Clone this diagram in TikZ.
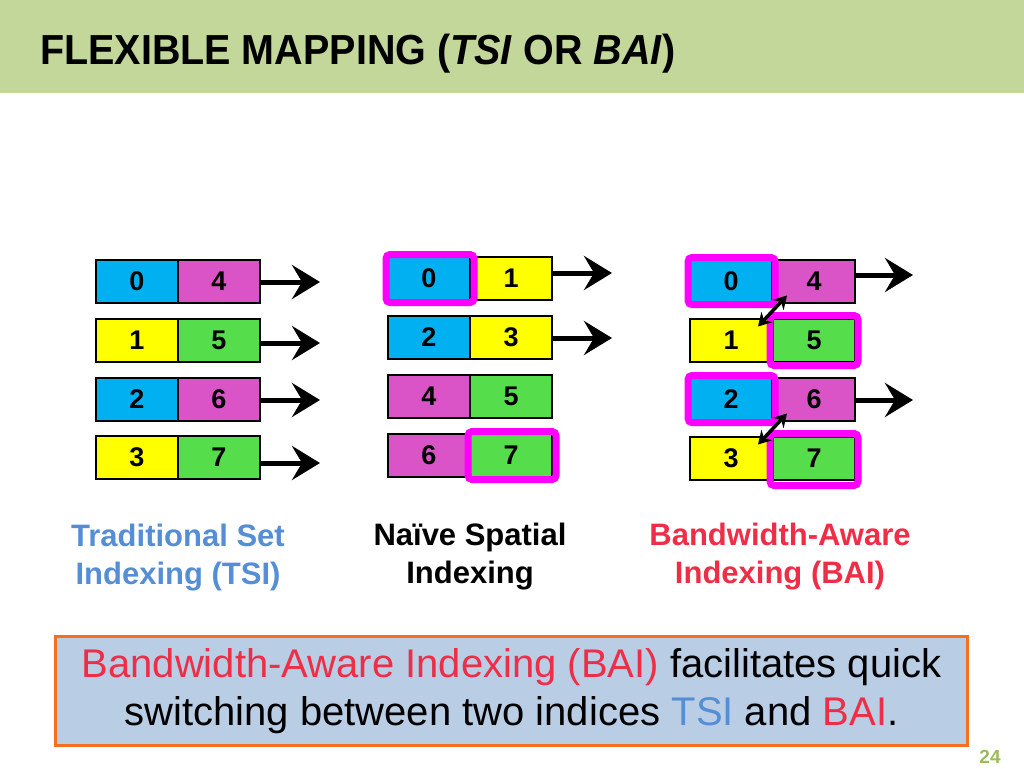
\documentclass[tikz,border=0pt]{standalone}
\usepackage{fontspec}
\setmainfont{Liberation Sans}
\usetikzlibrary{arrows.meta,calc}
\definecolor{titlebg}{RGB}{196,215,155}
\definecolor{cblue}{RGB}{0,176,240}
\definecolor{cpink}{RGB}{218,84,200}
\definecolor{cyel}{RGB}{255,255,0}
\definecolor{cgreen}{RGB}{85,221,75}
\definecolor{hl}{RGB}{255,0,255}
\definecolor{tsiblue}{RGB}{85,142,213}
\definecolor{baired}{RGB}{238,45,70}
\definecolor{boxfill}{RGB}{185,205,229}
\definecolor{boxline}{RGB}{245,112,30}
\definecolor{pgnum}{RGB}{155,187,89}
\begin{document}
\begin{tikzpicture}[x=1pt,y=-1pt,
 cell/.style={draw=black, line width=2pt, minimum width=82pt, minimum height=43pt, inner sep=0pt, font=\fontsize{27}{30}\selectfont\bfseries},
 hlbox/.style={draw=hl, line width=7pt, rounded corners=4pt},
 bigarrow/.style={line width=5pt, -{Stealth[length=28pt,width=34pt,inset=10pt]}},
 swaparrow/.style={line width=3.5pt, {Stealth[length=13pt,width=15pt]}-{Stealth[length=13pt,width=15pt]}},
 lbl/.style={font=\fontsize{31}{38}\selectfont\bfseries, align=center},
]
\useasboundingbox (0,0) rectangle (1024,768);
\fill[titlebg] (0,0) rectangle (1024,93);
\node[anchor=base west, inner sep=0pt, font=\fontsize{42}{46}\selectfont\bfseries] (title) at (40,64) {\scalebox{0.94}[1]{FLEXIBLE MAPPING (\textit{TSI} OR \textit{BAI})}};

% left column (TSI)
\node[cell, fill=cblue]  (a0) at (137,281) {0};
\node[cell, fill=cpink]  (a4) at (219,281) {4};
\node[cell, fill=cyel]   (a1) at (137,340) {1};
\node[cell, fill=cgreen] (a5) at (219,340) {5};
\node[cell, fill=cblue]  (a2) at (137,399) {2};
\node[cell, fill=cpink]  (a6) at (219,399) {6};
\node[cell, fill=cyel]   (a3) at (137,457) {3};
\node[cell, fill=cgreen] (a7) at (219,457) {7};
\coordinate (ta1) at (320,282);
\coordinate (ta2) at (320,343);
\coordinate (ta3) at (320,400);
\coordinate (ta4) at (320,463);
\draw[bigarrow] (a4.east |- ta1) -- (ta1);
\draw[bigarrow] (a5.east |- ta2) -- (ta2);
\draw[bigarrow] (a6.east |- ta3) -- (ta3);
\draw[bigarrow] (a7.east |- ta4) -- (ta4);

% middle column
\node[cell, fill=cblue]  (m0) at (429,278) {0};
\node[cell, fill=cyel]   (m1) at (511,278) {1};
\node[cell, fill=cblue]  (m2) at (429,337) {2};
\node[cell, fill=cyel]   (m3) at (511,337) {3};
\node[cell, fill=cpink]  (m4) at (429,396) {4};
\node[cell, fill=cgreen] (m5) at (511,396) {5};
\node[cell, fill=cpink]  (m6) at (429,455) {6};
\node[cell, fill=cgreen] (m7) at (511,455) {7};
\draw[hlbox] ($(m0.north west)+(-1,-1)$) rectangle ($(m0.south east)+(3,2)$);
\draw[hlbox] ($(m7.north west)+(-1,-1)$) rectangle ($(m7.south east)+(3,2)$);
\coordinate (tm1) at (612,273);
\coordinate (tm2) at (612,338);
\draw[bigarrow] (m1.east |- tm1) -- (tm1);
\draw[bigarrow] (m3.east |- tm2) -- (tm2);

% right column (BAI)
\node[cell, fill=cblue]  (r0) at (731,281) {0};
\node[cell, fill=cpink]  (r4) at (814,281) {4};
\node[cell, fill=cyel]   (r1) at (731,340) {1};
\node[cell, fill=cgreen] (r5) at (814,340) {5};
\node[cell, fill=cblue]  (r2) at (731,399) {2};
\node[cell, fill=cpink]  (r6) at (814,399) {6};
\node[cell, fill=cyel]   (r3) at (731,458) {3};
\node[cell, fill=cgreen] (r7) at (814,458) {7};
\draw[hlbox] ($(r0.north west)+(-1,-1)$) rectangle ($(r0.south east)+(2,1)$);
\draw[hlbox] ($(r5.north west)+(-2,-2)$) rectangle ($(r5.south east)+(2,3)$);
\draw[hlbox] ($(r2.north west)+(-1,-1)$) rectangle ($(r2.south east)+(2,1)$);
\draw[hlbox] ($(r7.north west)+(-2,-2)$) rectangle ($(r7.south east)+(2,5)$);
\draw[swaparrow] ($(r4.south west)+(15,-8)$) -- ($(r1.north east)+(-15,9)$);
\draw[swaparrow] ($(r6.south west)+(15,-8)$) -- ($(r3.north east)+(-15,9)$);
\coordinate (tr1) at (913,275);
\coordinate (tr2) at (913,400);
\draw[bigarrow] (r4.east |- tr1) -- (tr1);
\draw[bigarrow] (r6.east |- tr2) -- (tr2);

% labels
\node[lbl, text=tsiblue] (ltsi) at (178,558) {Traditional Set\\Indexing (TSI)};
\node[lbl] (lnsi) at (470,557) {Naïve Spatial\\Indexing};
\node[lbl, text=baired] (lbai) at (780,557) {Bandwidth-Aware\\Indexing (BAI)};

% bottom box
\node[draw=boxline, line width=3.5pt, fill=boxfill, minimum width=912pt, minimum height=109pt, align=center, font=\fontsize{40}{48}\selectfont] (box) at (511.5,691) {\textcolor{baired}{Bandwidth-Aware Indexing (BAI)} facilitates quick\\switching between two indices \textcolor{tsiblue}{TSI} and \textcolor{baired}{BAI}.};

\node[font=\fontsize{19}{21}\selectfont\bfseries, text=pgnum] (pg) at (990,757) {24};
\end{tikzpicture}
\end{document}
